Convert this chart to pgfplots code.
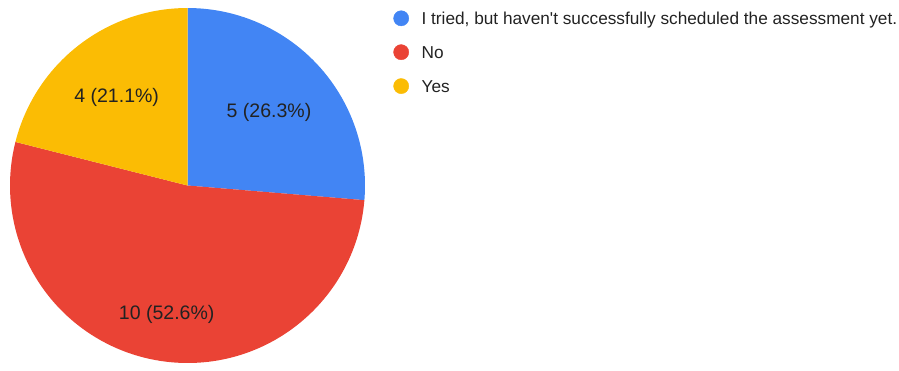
\documentclass[border=0pt]{standalone}
\usepackage{fontspec}
\setmainfont{Liberation Sans}
\usepackage{pgfplots}
\pgfplotsset{compat=1.18}
\definecolor{gblue}{HTML}{4285F4}
\definecolor{gred}{HTML}{EA4335}
\definecolor{gyellow}{HTML}{FBBC04}
\definecolor{txt}{HTML}{222222}
% data
\def\va{5}\def\vb{10}\def\vc{4}
\pgfmathsetmacro\tot{\va+\vb+\vc}
\pgfmathsetmacro\aA{90}
\pgfmathsetmacro\aB{90-360*\va/\tot}
\pgfmathsetmacro\aC{\aB-360*\vb/\tot}
\pgfmathsetmacro\aD{\aC-360*\vc/\tot}
\def\R{177.5bp}
\begin{document}
\begin{tikzpicture}
\begin{axis}[width=899bp,height=364bp,scale only axis,
  xmin=0,xmax=899,ymin=0,ymax=364,hide axis,clip=false,
  legend image code/.code={%
    \path[draw=none,fill=none] (0bp,-4bp) rectangle (28bp,13bp);
    \fill (7.6bp,6.1bp) circle (7.6bp);},
  legend style={draw=none,fill=none,inner sep=0pt,outer sep=0pt,
    at={(axis cs:393.4,353.5)},anchor=north west,
    cells={anchor=base west},
    nodes={inner sep=0pt,text height=13bp,text depth=4bp,text=txt,
      font=\fontsize{17.3}{20}\selectfont},
    row sep=16bp,column sep=0pt},
]
\path (axis cs:0,0) rectangle (axis cs:899,364);
\addlegendimage{gblue,fill=gblue}
\addlegendentry{I tried, but haven\textquotesingle t successfully scheduled the assessment yet.}
\addlegendimage{gred,fill=gred}
\addlegendentry{No}
\addlegendimage{gyellow,fill=gyellow}
\addlegendentry{Yes}
\fill[gblue] (axis cs:187.5,178.5) -- ++(\aA:\R) arc[start angle=\aA,end angle=\aB,radius=\R] -- cycle;
\fill[gred] (axis cs:187.5,178.5) -- ++(\aB:\R) arc[start angle=\aB,end angle=\aC,radius=\R] -- cycle;
\fill[gyellow] (axis cs:187.5,178.5) -- ++(\aC:\R) arc[start angle=\aC,end angle=\aD,radius=\R] -- cycle;
\begin{scope}[every node/.style={text=txt,font=\fontsize{19.6}{23}\selectfont,anchor=base,inner sep=0pt}]
\node at (axis cs:269,246.7) {5 (26.3\%)};
\node at (axis cs:166.7,44.7) {10 (52.6\%)};
\node at (axis cs:116.7,261.3) {4 (21.1\%)};
\end{scope}
\end{axis}
\end{tikzpicture}
\end{document}
